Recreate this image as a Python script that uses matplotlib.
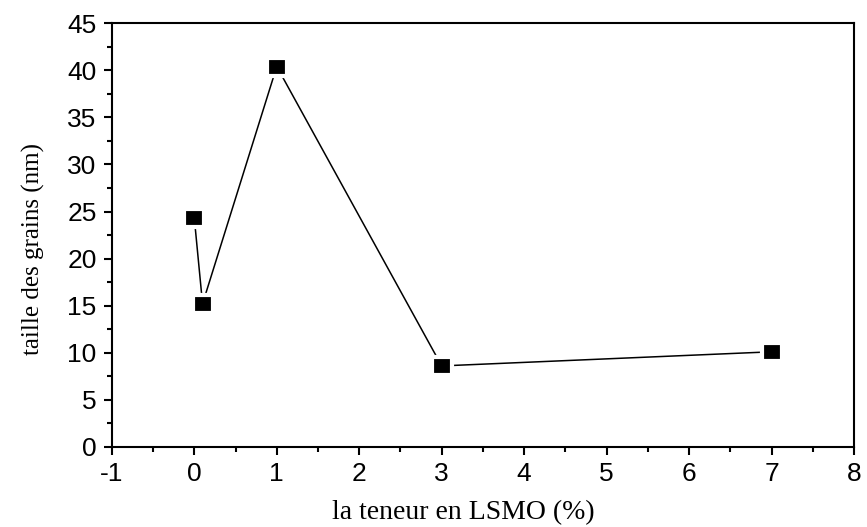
import numpy as np
import matplotlib.pyplot as plt
from matplotlib.ticker import MultipleLocator

plt.rcParams['axes.unicode_minus'] = False

# LSMO content (%) and grain size (nm)
teneur = [0, 0.1, 1, 3, 7]
taille = [24.3, 15.2, 40.4, 8.6, 10.1]

fig = plt.figure(figsize=(8.67, 5.27), dpi=100)
ax = fig.add_axes([0.129, 0.152, 0.856, 0.804])

# slightly wide rectangle marker, white rim gives the gap before the line
rect = [(-1, -0.855), (1, -0.855), (1, 0.855), (-1, 0.855), (-1, -0.855)]
ax.plot(teneur, taille, color='k', lw=1.1, marker=rect, markersize=14.5,
        markerfacecolor='k', markeredgecolor='white', markeredgewidth=3)

ax.set_xlim(-1, 8)
ax.set_ylim(0, 45)
ax.xaxis.set_major_locator(MultipleLocator(1))
ax.xaxis.set_minor_locator(MultipleLocator(0.5))
ax.yaxis.set_major_locator(MultipleLocator(5))
ax.yaxis.set_minor_locator(MultipleLocator(2.5))

for s in ax.spines.values():
    s.set_linewidth(1.5)
ax.tick_params(which='both', direction='out', width=1.5, top=False, right=False)
ax.tick_params(which='major', length=6, labelsize=19, pad=5)
ax.tick_params(which='minor', length=3.5)
for lab in ax.get_xticklabels() + ax.get_yticklabels():
    lab.set_family('Liberation Sans')

ax.set_xlabel('la teneur en LSMO (%)', family='Liberation Serif', fontsize=20)
ax.set_ylabel('taille des grains (nm)', family='Liberation Serif', fontsize=18)
ax.xaxis.set_label_coords(0.473, -0.125)
ax.yaxis.set_label_coords(-0.09, 0.467)

fig.savefig('out.png', dpi=100)
